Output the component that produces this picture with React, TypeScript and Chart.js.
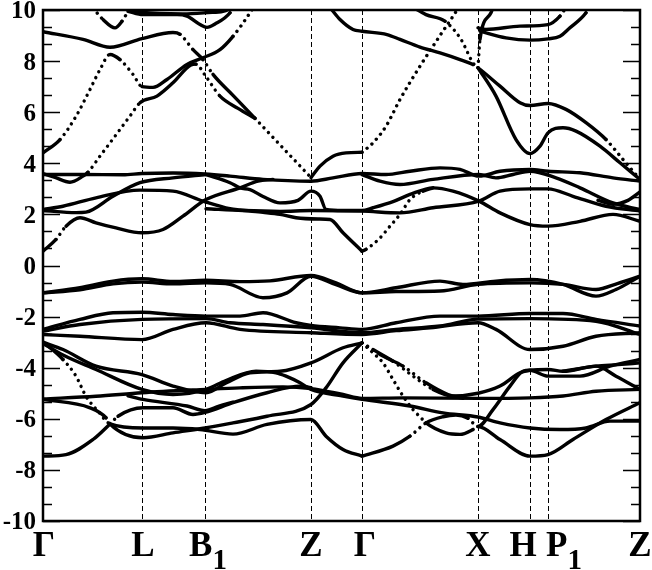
import React, { useEffect, useRef } from "react";
import { Chart, registerables } from "chart.js";

Chart.register(...registerables);

// High-symmetry points along the k-path (path length units)
const kTicks = [0, 99, 162, 268, 319, 435, 487, 505, 597];
const kLabels = ["Γ", "L", "B", "Z", "Γ", "X", "H", "P", "Z"];
const kSubs = ["", "", "1", "", "", "", "", "1", ""];
const yTickLabels = [-10, -8, -6, -4, -2, 0, 2, 4, 6, 8, 10];

// Energy bands: [k, E(eV)]
const bA = [[0,9.15],[40,8.85],[67,8.54],[99,8.88],[130,9.12],[137,9.05],[150,8.45],[160,8.06],[170,7.48],[190,6.66],[212,5.76],[240,4.6],[268,3.44]];
const bB = [[0,3.6],[12,3.45],[27,3.26],[40,3.5],[45,3.65],[57,4.28],[72,5.06],[87,5.85],[97,6.37],[114,6.63],[130,7.15],[148,7.85],[153,7.88],[162,7.45],[177,6.63],[195,6.15],[212,5.76]];
const bC = [[0,4.41],[17,4.93],[33,5.84],[47,6.89],[57,7.67],[67,8.26],[77,8.06],[90,7.48],[99,7.0],[110,6.97],[124,7.28],[144,7.87],[160,8.13],[177,8.45],[190,8.97],[207,9.89],[212,10.2]];
const bD = [[51,10.1],[54,9.89],[60,9.63],[72,9.3],[79,9.56],[85,9.95],[87,10.1]];
const bE = [[85,9.95],[100,9.82],[134,9.82],[144,9.76],[157,9.43],[164,9.32],[172,9.45],[187,9.89],[190,10.1]];
const bF = [[85,10.05],[100,9.9],[140,9.85],[165,9.9],[180,9.95],[190,10.1]];
const bQ = [[288,10.05],[297,9.63],[310,9.24],[319,9.17],[344,9.04],[357,8.85],[377,8.55],[397,8.32],[417,8.06],[430,7.87],[435,7.74],[457,7.02],[477,6.37],[487,6.26],[505,6.34],[523,6.11],[543,5.59],[563,4.93],[580,4.15],[597,3.37]];
const bR = [[435,7.74],[453,6.63],[473,4.93],[487,4.38],[497,4.67],[505,5.19],[520,5.39],[533,5.26],[557,4.67],[577,4.02],[597,3.37]];
const bZG = [[268,3.44],[277,3.89],[290,4.28],[303,4.41],[319,4.43]];
const bG = [[319,4.43],[330,4.8],[343,5.45],[357,6.5],[377,7.8],[397,9.0],[414,10.0],[417,10.2]];
const bJ = [[370,10.1],[377,9.95],[383,9.82],[402,9.56],[418,8.85],[430,7.93],[435,7.74]];
const bK = [[435,7.74],[437,8.85],[448,9.89],[450,10.1]];
const bH = [[435,9.3],[443,9.24],[477,9.37],[505,9.43],[517,9.76],[523,10.1]];
const bI = [[437,9.17],[463,8.91],[487,8.82],[505,8.87],[517,8.97],[525,9.24],[543,9.89],[546,10.1]];

const bS1 = [[0,3.56],[40,3.56],[80,3.55],[99,3.6],[130,3.62],[162,3.58],[187,3.5],[220,3.37],[268,3.3],[290,3.43],[319,3.6],[343,3.56],[367,3.69],[397,3.82],[417,3.76],[436,3.5],[457,3.69],[487,3.76],[505,3.69],[537,3.63],[570,3.43],[597,3.3]];
const bS2 = [[319,3.56],[337,3.3],[357,3.17],[390,3.37],[436,3.56],[453,3.43],[470,3.56],[487,3.69],[513,3.43],[537,3.04],[570,2.45],[597,2.19]];
const bT = [[555,2.55],[570,2.4],[585,2.55],[597,2.88]];
const bU1 = [[0,2.19],[20,2.32],[53,2.65],[97,2.95],[130,2.91],[160,2.52],[187,2.22],[197,2.17],[220,2.08],[237,2.0],[253,1.87],[275,1.82],[287,1.8],[300,1.28],[319,0.56]];
const bU2 = [[0,2.15],[33,2.07],[43,2.09],[70,2.71],[97,3.24],[130,3.43],[163,3.56]];
const bW = [[163,2.22],[200,2.15],[237,2.12],[268,2.15],[319,2.13],[357,2.06],[390,2.26],[436,2.52],[457,2.91],[487,3.0],[505,3.0],[530,2.71],[563,2.32],[597,2.13]];
const bM = [[163,3.56],[187,3.24],[197,3.04],[207,2.97],[220,2.7],[237,2.45],[255,2.55],[268,2.91],[277,2.71],[283,2.19],[300,2.15],[319,2.15],[330,2.26],[350,2.5],[367,2.78],[390,3.04],[410,2.91],[436,2.52],[457,2.06],[487,1.6],[505,1.54],[537,1.73],[570,2.0],[597,1.73]];
const bPa = [[0,0.56],[13,1.02],[23,1.54],[37,1.87],[53,1.67],[73,1.47],[99,1.28],[120,1.41],[140,1.93],[163,2.58],[197,3.04],[215,3.3],[230,3.37]];
const bPb = [[319,0.56],[323,0.63],[337,1.08],[347,1.54],[357,2.0],[367,2.58],[380,2.91],[390,3.04]];

const bY1 = [[0,-1.07],[37,-0.87],[70,-0.61],[99,-0.52],[130,-0.62],[163,-0.58],[197,-0.63],[227,-0.6],[268,-0.39],[293,-0.68],[319,-1.07],[353,-0.87],[397,-0.61],[420,-0.74],[453,-0.61],[487,-0.55],[520,-0.74],[553,-1.2],[573,-0.94],[597,-0.42]];
const bY2 = [[0,-1.07],[37,-0.95],[70,-0.72],[99,-0.65],[130,-0.72],[163,-0.68],[187,-0.74],[220,-1.26],[244,-1.07],[268,-0.42],[293,-0.75],[319,-1.07],[353,-1.02],[397,-1.0],[435,-0.74],[487,-0.68],[520,-0.74],[553,-0.94],[575,-0.7],[597,-0.42]];

const bZ1 = [[0,-2.5],[37,-2.11],[70,-1.85],[99,-1.83],[130,-1.92],[163,-1.98],[197,-1.98],[220,-1.85],[253,-2.24],[268,-2.35],[297,-2.44],[319,-2.5],[353,-2.24],[397,-1.98],[435,-1.98],[487,-1.88],[520,-1.88],[553,-2.11],[597,-2.37]];
const bZ2 = [[0,-2.57],[37,-2.31],[99,-2.11],[163,-2.08],[187,-2.24],[220,-2.31],[268,-2.44],[319,-2.63],[353,-2.5],[397,-2.37],[435,-2.1],[487,-2.08],[553,-2.18],[597,-2.7]];
const bZ3 = [[0,-2.7],[37,-2.77],[99,-2.9],[130,-2.5],[163,-2.24],[197,-2.5],[268,-2.63],[319,-2.7],[353,-2.55],[387,-2.44],[435,-2.24],[453,-2.5],[487,-3.29],[520,-3.16],[553,-2.77],[597,-2.63]];

const bV1 = [[0,-3.0],[20,-3.29],[53,-3.94],[99,-4.27],[130,-4.72],[163,-4.98],[183,-4.6],[207,-4.2],[237,-4.14],[268,-3.81],[300,-3.22],[319,-3.03]];
const bV2 = [[0,-3.05],[20,-3.5],[53,-4.07],[99,-4.85],[130,-5.05],[163,-4.85],[183,-4.5],[213,-4.14],[233,-4.2],[243,-4.33],[257,-4.59],[268,-4.85],[300,-5.11],[319,-5.24],[367,-5.5],[400,-5.77],[435,-5.93],[457,-6.16],[487,-6.36],[517,-6.42],[543,-6.36],[567,-6.09],[597,-6.09]];
const bV3 = [[0,-3.0],[3,-3.09],[20,-3.68],[33,-4.33],[43,-5.12],[55,-5.7],[67,-6.2],[100,-6.36],[130,-6.36],[157,-6.42],[190,-6.6],[224,-6.22],[268,-6.03],[283,-6.68],[300,-7.2],[319,-7.46]];
const bV4 = [[0,-5.22],[53,-5.12],[99,-4.98],[163,-4.85],[197,-4.79],[240,-4.75],[268,-4.82],[300,-5.05],[319,-5.2],[360,-5.18],[435,-5.2],[487,-5.18],[520,-5.11],[553,-4.92],[597,-4.85]];
const bV5 = [[0,-5.24],[47,-5.57],[63,-5.96],[67,-6.2],[100,-6.74],[130,-6.55],[162,-6.36],[190,-6.16],[224,-5.9],[268,-5.44],[283,-4.79],[300,-3.81],[319,-3.03]];
const bV6 = [[0,-7.46],[23,-7.4],[50,-6.81],[67,-6.2],[75,-5.9],[100,-5.57],[130,-5.57],[150,-5.83],[162,-5.75],[190,-5.37],[224,-4.98],[257,-4.72],[268,-4.78]];
const bV8 = [[85,-5.1],[100,-5.24],[144,-5.5],[162,-5.68],[176,-5.5],[190,-5.35]];
const bDD = [[319,-3.03],[330,-3.29],[350,-3.75],[370,-4.33],[390,-4.85],[410,-5.11],[435,-5.0],[457,-4.72],[477,-4.2],[487,-4.1],[505,-4.07],[520,-4.14],[553,-3.94],[573,-4.33],[597,-4.85]];
const bDD2 = [[319,-3.03],[337,-3.48],[360,-3.94],[383,-4.59],[405,-5.05],[420,-5.2]];
const bX2 = [[520,-4.14],[553,-3.94],[575,-3.88],[597,-3.81]];
const bSD = [[319,-3.03],[330,-3.42],[340,-3.81],[350,-4.46],[360,-5.11],[370,-5.64],[378,-5.96],[383,-6.16],[403,-6.55],[417,-6.61],[430,-6.42],[435,-6.3],[457,-6.81],[487,-7.46],[505,-7.4],[530,-6.81],[563,-6.03],[597,-5.37]];
const bV9 = [[319,-7.46],[350,-7.07],[367,-6.68],[383,-6.16],[400,-5.92],[413,-5.85],[425,-5.98],[435,-6.3],[450,-5.64],[467,-4.72],[480,-4.14],[487,-4.1],[505,-4.33],[537,-4.33],[567,-3.94],[597,-3.68]];

const allBands = [
  bA, bB, bC, bD, bE, bF, bQ, bR, bZG, bG, bJ, bK, bH, bI,
  bS1, bS2, bT, bU1, bU2, bW, bM, bPa, bPb,
  bY1, bY2, bZ1, bZ2, bZ3,
  bV1, bV2, bV3, bV4, bV5, bV6, bV8, bDD, bDD2, bX2, bSD, bV9,
];

// slope above which the sparse k-sampling of each path segment shows as dots
const segmentDotSlope = [0.95, 1.1, 1.05, Infinity, 0.6, 3, Infinity, 1.0];

// label horizontal nudges (px) to mimic the reference placement
const labelShift = [1, 1, 3, 0, 3, 0, -7, 16, 0];

const SERIF = "'Liberation Serif', 'Times New Roman', serif";

function segmentIndex(k: number) {
  for (let i = 0; i < kTicks.length - 1; i++) {
    if (k < kTicks[i + 1]) return i;
  }
  return kTicks.length - 2;
}

const decorPlugin = {
  id: "decor",
  beforeDatasetsDraw(chart: any) {
    const { ctx, chartArea: a, scales } = chart;
    const x = scales.x;
    ctx.save();
    ctx.strokeStyle = "#000";
    ctx.lineWidth = 1;
    ctx.setLineDash([5, 3]);
    for (const k of kTicks.slice(1, -1)) {
      const px = Math.round(x.getPixelForValue(k)) + 0.5;
      ctx.beginPath();
      ctx.moveTo(px, a.top);
      ctx.lineTo(px, a.bottom);
      ctx.stroke();
    }
    ctx.restore();
  },
  afterDraw(chart: any) {
    const { ctx, chartArea: a, scales } = chart;
    const x = scales.x;
    const y = scales.y;
    ctx.save();
    ctx.setLineDash([]);
    ctx.strokeStyle = "#000";
    ctx.lineWidth = 1.5;
    for (let i = 0; i <= 30; i++) {
      const v = -10 + (i * 2) / 3;
      const py = Math.round(y.getPixelForValue(v)) + 0.5;
      const len = i % 3 === 0 ? 17 : 9;
      ctx.beginPath();
      ctx.moveTo(a.left, py);
      ctx.lineTo(a.left + len, py);
      ctx.moveTo(a.right, py);
      ctx.lineTo(a.right - len, py);
      ctx.stroke();
    }
    ctx.lineWidth = 2.5;
    ctx.strokeRect(a.left, a.top, a.right - a.left, a.bottom - a.top);
    ctx.fillStyle = "#000";
    ctx.font = `bold 25px ${SERIF}`;
    ctx.textAlign = "right";
    ctx.textBaseline = "middle";
    for (const v of yTickLabels) {
      ctx.fillText(String(v), a.left - 7, y.getPixelForValue(v) + 2);
    }
    ctx.textAlign = "left";
    ctx.textBaseline = "alphabetic";
    const mainFont = `bold 35px ${SERIF}`;
    const subFont = `bold 29px ${SERIF}`;
    kTicks.forEach((k, i) => {
      ctx.font = mainFont;
      const w1 = ctx.measureText(kLabels[i]).width;
      ctx.font = subFont;
      const w2 = kSubs[i] ? ctx.measureText(kSubs[i]).width : 0;
      const px = x.getPixelForValue(k);
      const start = px - (w1 + w2) / 2 + labelShift[i];
      ctx.font = mainFont;
      ctx.fillText(kLabels[i], start, 556);
      if (kSubs[i]) {
        ctx.font = subFont;
        ctx.fillText(kSubs[i], start + w1, 569);
      }
    });
    ctx.restore();
  },
};

export default function App() {
  const canvasRef = useRef<HTMLCanvasElement | null>(null);

  useEffect(() => {
    const canvas = canvasRef.current;
    if (!canvas) return;
    const datasets = allBands.map((band) => ({
      data: band.map(([k, e]) => ({ x: k, y: e })),
      showLine: true,
      borderColor: "#000",
      backgroundColor: "#000",
      borderWidth: 3.4,
      borderCapStyle: "round" as const,
      borderJoinStyle: "round" as const,
      pointRadius: 0,
      pointHoverRadius: 0,
      cubicInterpolationMode: "monotone" as const,
      fill: false,
      segment: {
        borderDash: (c: any) => {
          const band = allBands[c.datasetIndex];
          const p0 = band[c.p0DataIndex];
          const p1 = band[c.p1DataIndex];
          if (!p0 || !p1) return undefined;
          const mid = (p0[0] + p1[0]) / 2;
          const limit = segmentDotSlope[segmentIndex(mid)];
          const dx = Math.abs(c.p1.x - c.p0.x);
          const dy = Math.abs(c.p1.y - c.p0.y);
          return dy > limit * dx ? [0.01, 6.5] : undefined;
        },
      },
    }));
    const chart = new Chart(canvas, {
      type: "scatter",
      data: { datasets },
      options: {
        animation: false,
        responsive: true,
        maintainAspectRatio: false,
        events: [],
        layout: { padding: { left: 43, right: 12, top: 10, bottom: 49 } },
        plugins: { legend: { display: false }, tooltip: { enabled: false } },
        scales: {
          x: { type: "linear", min: 0, max: 597, display: false },
          y: { type: "linear", min: -10, max: 10, display: false },
        },
      },
      plugins: [decorPlugin],
    });
    return () => chart.destroy();
  }, []);

  return (
    <div style={{ position: "fixed", left: 0, top: 0, width: 652, height: 570, background: "#fff" }}>
      <canvas ref={canvasRef} />
    </div>
  );
}
